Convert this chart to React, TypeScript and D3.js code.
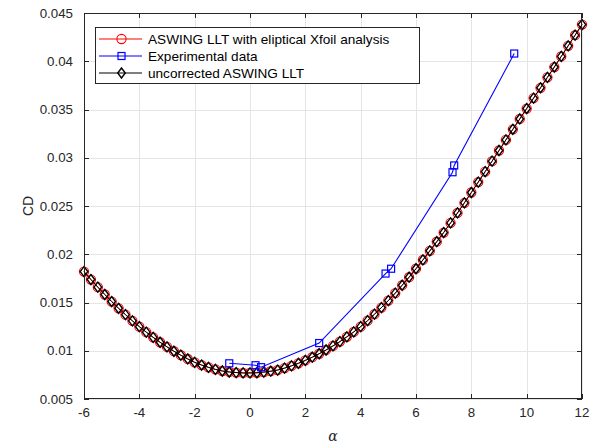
import React from "react";
import * as d3 from "d3";

const alphaLLT: number[] = [
  -6, -5.75, -5.5, -5.25, -5, -4.75, -4.5, -4.25, -4, -3.75, -3.5, -3.25, -3, -2.75, -2.5, -2.25,
  -2, -1.75, -1.5, -1.25, -1, -0.75, -0.5, -0.25, 0, 0.25, 0.5, 0.75, 1, 1.25, 1.5, 1.75,
  2, 2.25, 2.5, 2.75, 3, 3.25, 3.5, 3.75, 4, 4.25, 4.5, 4.75, 5, 5.25, 5.5, 5.75,
  6, 6.25, 6.5, 6.75, 7, 7.25, 7.5, 7.75, 8, 8.25, 8.5, 8.75, 9, 9.25, 9.5, 9.75,
  10, 10.25, 10.5, 10.75, 11, 11.25, 11.5, 11.75, 12,
];

const cdElliptic: number[] = [
  0.0182, 0.01738, 0.01659, 0.01583, 0.0151, 0.0144, 0.01374, 0.0131, 0.0125, 0.01193, 0.01139, 0.01088,
  0.0104, 0.00995, 0.00954, 0.00915, 0.0088, 0.00852, 0.00828, 0.00807, 0.0079, 0.0078, 0.00774, 0.0077,
  0.0077, 0.00772, 0.00779, 0.00788, 0.008, 0.0082, 0.00844, 0.0087, 0.009, 0.00933, 0.00969, 0.01008,
  0.0105, 0.01095, 0.01144, 0.01195, 0.0125, 0.01312, 0.01379, 0.01447, 0.0152, 0.01597, 0.01679, 0.01762,
  0.0185, 0.01941, 0.02035, 0.0213, 0.02225, 0.02325, 0.02428, 0.02533, 0.0264, 0.02748, 0.02856, 0.02965,
  0.03075, 0.03185, 0.03295, 0.03402, 0.0351, 0.03618, 0.03725, 0.03833, 0.0394, 0.0405, 0.0416, 0.0427,
  0.0438,
];

const cdUncorrected: number[] = [
  0.0182, 0.01738, 0.01659, 0.01583, 0.0151, 0.0144, 0.01374, 0.0131, 0.0125, 0.01193, 0.01139, 0.01088,
  0.0104, 0.00995, 0.00954, 0.00915, 0.0088, 0.00852, 0.00828, 0.00807, 0.0079, 0.0078, 0.00774, 0.0077,
  0.0077, 0.00772, 0.00779, 0.00788, 0.008, 0.0082, 0.00844, 0.0087, 0.009, 0.00933, 0.00969, 0.01008,
  0.0105, 0.01095, 0.01144, 0.01195, 0.0125, 0.01312, 0.01379, 0.01447, 0.0152, 0.01597, 0.01679, 0.01762,
  0.0185, 0.01941, 0.02035, 0.0213, 0.02225, 0.02325, 0.02428, 0.02533, 0.0264, 0.02748, 0.02856, 0.02965,
  0.03075, 0.03185, 0.03295, 0.03402, 0.0351, 0.03618, 0.03725, 0.03833, 0.0394, 0.0405, 0.0416, 0.0427,
  0.0438,
];

const alphaExp: number[] = [-0.75, 0.2, 0.4, 2.5, 4.9, 5.1, 7.32, 7.38, 9.55];
const cdExp: number[] = [0.0087, 0.0085, 0.0083, 0.0108, 0.018, 0.0185, 0.0285, 0.0292, 0.0408];

const xTicks: number[] = [-6, -4, -2, 0, 2, 4, 6, 8, 10, 12];
const yTicks: number[] = [0.005, 0.01, 0.015, 0.02, 0.025, 0.03, 0.035, 0.04, 0.045];

const legendLabels: string[] = [
  "ASWING LLT with eliptical Xfoil analysis",
  "Experimental data",
  "uncorrected ASWING LLT",
];

const W = 594;
const H = 446;
const L = 84;
const R = 582;
const T = 13;
const B = 399;
const AX = "#262626";
const FONT = "'Liberation Sans', Arial, Helvetica, sans-serif";

export default function App() {
  const x = d3.scaleLinear().domain([-6, 12]).range([L, R]);
  const y = d3.scaleLinear().domain([0.005, 0.045]).range([B, T]);

  const line = d3
    .line<[number, number]>()
    .x((d) => x(d[0]))
    .y((d) => y(d[1]));

  const ell: [number, number][] = alphaLLT.map((a, i) => [a, cdElliptic[i]]);
  const unc: [number, number][] = alphaLLT.map((a, i) => [a, cdUncorrected[i]]);
  const exp: [number, number][] = alphaExp.map((a, i) => [a, cdExp[i]]);

  const diamond = (cx: number, cy: number, h = 5, w = 3.8) =>
    `M${cx},${cy - h}L${cx + w},${cy}L${cx},${cy + h}L${cx - w},${cy}Z`;

  const tickLen = 5;

  return (
    <svg width={W} height={H} style={{ position: "absolute", left: 0, top: 0, background: "#fff" }}>
      <rect x={0} y={0} width={W} height={H} fill="#fff" />
      {/* grid */}
      <g stroke="#e5e5e5" strokeWidth={1}>
        {xTicks.map((t) => (
          <line key={"gx" + t} x1={Math.round(x(t)) + 0.5} x2={Math.round(x(t)) + 0.5} y1={T} y2={B} />
        ))}
        {yTicks.map((t) => (
          <line key={"gy" + t} x1={L} x2={R} y1={Math.round(y(t)) + 0.5} y2={Math.round(y(t)) + 0.5} />
        ))}
      </g>

      {/* series */}
      <g>
        <path d={line(ell) || ""} fill="none" stroke="#ff0000" strokeWidth={1} />
        {ell.map((d, i) => (
          <circle key={"c" + i} cx={x(d[0])} cy={y(d[1])} r={4.6} fill="none" stroke="#ff0000" strokeWidth={1.1} />
        ))}
        <path d={line(unc) || ""} fill="none" stroke="#000" strokeWidth={1} />
        {unc.map((d, i) => (
          <path key={"d" + i} d={diamond(x(d[0]), y(d[1]))} fill="none" stroke="#000" strokeWidth={1.4} />
        ))}
        <path d={line(exp) || ""} fill="none" stroke="#0000ff" strokeWidth={1.1} />
        {exp.map((d, i) => (
          <rect
            key={"s" + i}
            x={x(d[0]) - 3.5}
            y={y(d[1]) - 3.5}
            width={7}
            height={7}
            fill="none"
            stroke="#0000ff"
            strokeWidth={1.2}
          />
        ))}
      </g>

      {/* axes box */}
      <rect x={L + 0.5} y={T + 0.5} width={R - L - 1} height={B - T - 1} fill="none" stroke={AX} strokeWidth={1} />
      <g stroke={AX} strokeWidth={1}>
        {xTicks.map((t) => {
          const px = Math.round(x(t)) + 0.5;
          return (
            <g key={"tx" + t}>
              <line x1={px} x2={px} y1={B} y2={B - tickLen} />
              <line x1={px} x2={px} y1={T} y2={T + tickLen} />
            </g>
          );
        })}
        {yTicks.map((t) => {
          const py = Math.round(y(t)) + 0.5;
          return (
            <g key={"ty" + t}>
              <line x1={L} x2={L + tickLen} y1={py} y2={py} />
              <line x1={R} x2={R - tickLen} y1={py} y2={py} />
            </g>
          );
        })}
      </g>

      {/* tick labels */}
      <g fontFamily={FONT} fontSize={13.3} fill={AX}>
        {xTicks.map((t) => (
          <text key={"lx" + t} x={x(t)} y={B + 18} textAnchor="middle">
            {String(t)}
          </text>
        ))}
        {yTicks.map((t) => (
          <text key={"ly" + t} x={L - 11} y={y(t) + 4.5} textAnchor="end">
            {String(t)}
          </text>
        ))}
      </g>

      {/* axis labels */}
      <text x={x(3)} y={441} textAnchor="middle" fontFamily="'DejaVu Serif', 'Liberation Serif', serif" fontStyle="italic" fontSize={14} fill={AX}>
        α
      </text>
      <text
        transform={`translate(${32.5},${y(0.025)}) rotate(-90)`}
        textAnchor="middle"
        fontFamily={FONT}
        fontSize={14}
        fill={AX}
      >
        CD
      </text>

      {/* legend */}
      <g>
        <rect x={95.5} y={27.5} width={324} height={56} fill="#fff" stroke={AX} strokeWidth={1} />
        {legendLabels.map((lab, i) => {
          const ly = 39 + i * 17;
          const color = i === 0 ? "#ff0000" : i === 1 ? "#0000ff" : "#000";
          return (
            <g key={"lg" + i}>
              <line x1={99} x2={142} y1={ly} y2={ly} stroke={color} strokeWidth={1.1} />
              {i === 0 && <circle cx={121.5} cy={ly} r={4.6} fill="none" stroke={color} strokeWidth={1.1} />}
              {i === 1 && <rect x={118} y={ly - 3.5} width={7} height={7} fill="none" stroke={color} strokeWidth={1.2} />}
              {i === 2 && <path d={diamond(121.5, ly)} fill="none" stroke={color} strokeWidth={1.4} />}
              <text x={148} y={ly + 4.8} fontFamily={FONT} fontSize={13.6} fill="#000">
                {lab}
              </text>
            </g>
          );
        })}
      </g>
    </svg>
  );
}
